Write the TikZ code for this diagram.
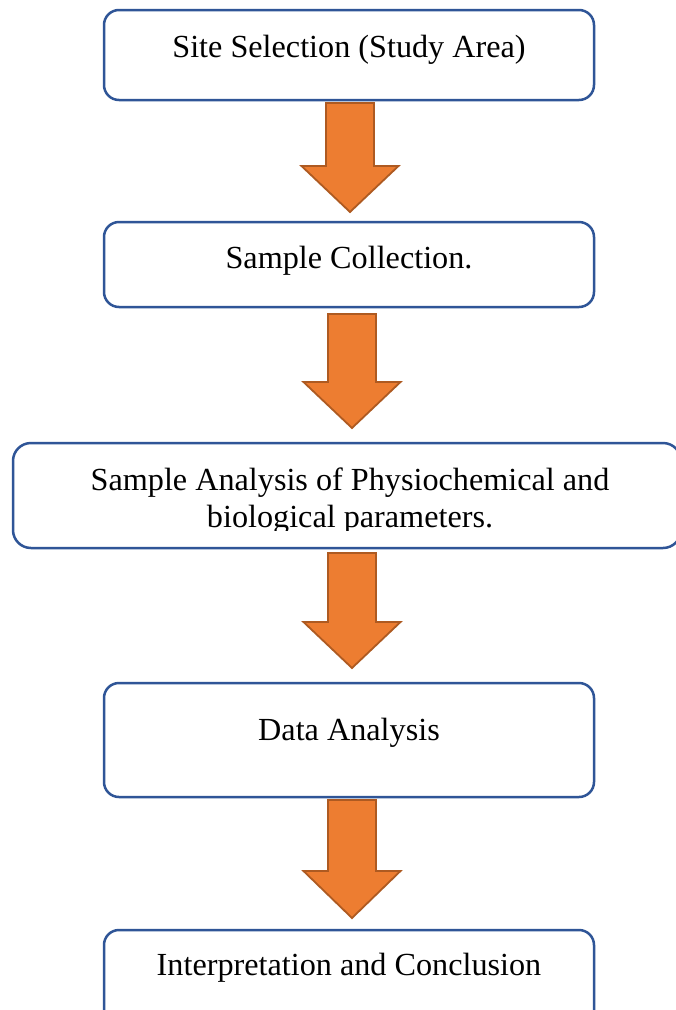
\documentclass[tikz,border=0pt]{standalone}
\usepackage{fontspec}
\setmainfont{Liberation Serif}
\usetikzlibrary{fit}
\definecolor{boxblue}{HTML}{2F5597}
\definecolor{arrfill}{HTML}{ED7D31}
\definecolor{arrdraw}{HTML}{AE5A21}
\tikzset{
  stepbox/.style={draw=boxblue, line width=2.5pt, rounded corners=15pt, inner sep=0pt, fill=white},
  label/.style={anchor=base, inner sep=0pt, font=\fontsize{32.2}{37}\selectfont},
  blockarrow/.style={fill=arrfill, draw=arrdraw, line width=1.8pt, line join=miter}
}
\newcommand{\blockarr}[4]{%
  \draw[blockarrow] ({#1-24},#2) -- ({#1+24},#2) -- ({#1+24},#3) -- ({#1+48.5},#3)
    -- (#1,#4) -- ({#1-48.5},#3) -- ({#1-24},#3) -- cycle;}
\begin{document}
\begin{tikzpicture}[x=1pt,y=-1pt]
\useasboundingbox (0,0) rectangle (676,1010);
\fill[white] (0,0) rectangle (676,1010);
% boxes
\node (b1) [stepbox, fit={(104,10) (594,100)}] {};
\node (b2) [stepbox, fit={(104,222) (594,307)}] {};
\node (b3) [stepbox, rounded corners=18pt, fit={(13,443) (681,548)}] {};
\node (b4) [stepbox, fit={(104,683) (594,797)}] {};
\node (b5) [stepbox, fit={(104,930) (594,1045)}] {};
% texts
\node (t1) [label] at (349,57) {Site Selection (Study Area)};
\node (t2) [label] at (349,268) {Sample Collection.};
\begin{scope}
\clip (13,443) rectangle (681,530);
\node (t3a) [label] at (350,490) {Sample Analysis of Physiochemical and};
\node (t3b) [label] at (350,527) {biological parameters.};
\end{scope}
\node (t4) [label] at (349,740) {Data Analysis};
\node (t5) [label] at (349,975) {Interpretation and Conclusion};
% arrows
\blockarr{350}{103}{166}{212}
\blockarr{352}{314}{382}{428}
\blockarr{352}{553}{622}{668}
\blockarr{352}{800}{871}{918}
\end{tikzpicture}
\end{document}
